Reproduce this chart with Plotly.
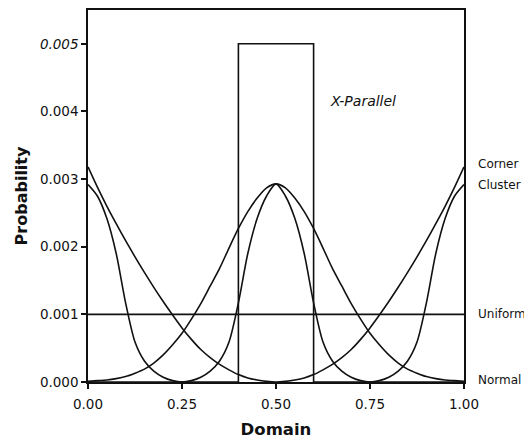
import plotly.graph_objects as go

# Domain grid (x)
domain = [0.000, 0.025, 0.050, 0.075, 0.100, 0.125, 0.150, 0.175, 0.200, 0.225,
          0.250, 0.275, 0.300, 0.325, 0.350, 0.375, 0.400, 0.425, 0.450, 0.475,
          0.500, 0.525, 0.550, 0.575, 0.600, 0.625, 0.650, 0.675, 0.700, 0.725,
          0.750, 0.775, 0.800, 0.825, 0.850, 0.875, 0.900, 0.925, 0.950, 0.975, 1.000]

cluster = [0.00292, 0.00275, 0.00242, 0.00190, 0.00117, 0.00059, 0.00031, 0.00016, 0.00007, 0.00002,
           0.00000, 0.00002, 0.00007, 0.00016, 0.00031, 0.00059, 0.00117, 0.00190, 0.00242, 0.00275,
           0.00293, 0.00275, 0.00242, 0.00190, 0.00117, 0.00059, 0.00031, 0.00016, 0.00007, 0.00002,
           0.00000, 0.00002, 0.00007, 0.00016, 0.00031, 0.00059, 0.00117, 0.00190, 0.00242, 0.00275, 0.00292]

corner = [0.00318, 0.00288, 0.00260, 0.00234, 0.00209, 0.00185, 0.00162, 0.00140, 0.00119, 0.00099,
          0.00080, 0.00063, 0.00048, 0.00036, 0.00026, 0.00018, 0.00011, 0.00006, 0.00003, 0.00001,
          0.00000, 0.00001, 0.00003, 0.00006, 0.00011, 0.00018, 0.00026, 0.00036, 0.00048, 0.00063,
          0.00080, 0.00099, 0.00119, 0.00140, 0.00162, 0.00185, 0.00209, 0.00234, 0.00260, 0.00288, 0.00318]

normal = [0.00001, 0.00002, 0.00003, 0.00005, 0.00008, 0.00013, 0.00019, 0.00028, 0.00040, 0.00055,
          0.00072, 0.00093, 0.00116, 0.00142, 0.00168, 0.00198, 0.00227, 0.00252, 0.00272, 0.00287,
          0.00293, 0.00287, 0.00272, 0.00252, 0.00227, 0.00198, 0.00168, 0.00142, 0.00116, 0.00093,
          0.00072, 0.00055, 0.00040, 0.00028, 0.00019, 0.00013, 0.00008, 0.00005, 0.00003, 0.00002, 0.00001]

uniform_x = [0.0, 1.0]
uniform_y = [0.001, 0.001]

xparallel_x = [0.0, 0.4, 0.4, 0.6, 0.6, 1.0]
xparallel_y = [0.0, 0.0, 0.005, 0.005, 0.0, 0.0]

x_ticks = [0.0, 0.25, 0.5, 0.75, 1.0]
x_ticklabels = ["0.00", "0.25", "0.50", "0.75", "1.00"]
y_ticks = [0.0, 0.001, 0.002, 0.003, 0.004, 0.005]
y_ticklabels = ["0.000", "0.001", "0.002", "0.003", "0.004", "<i>0.005</i>"]

labels = ["Corner", "Cluster", "Uniform", "Normal"]
label_y = [0.00323, 0.00291, 0.00100, 0.00003]

LINE = dict(color="#111111", width=1.6)
FONT = "DejaVu Sans, Arial, sans-serif"

fig = go.Figure()
fig.add_trace(go.Scatter(x=uniform_x, y=uniform_y, mode="lines", line=LINE))
fig.add_trace(go.Scatter(x=xparallel_x, y=xparallel_y, mode="lines", line=LINE))
for series in (normal, corner, cluster):
    fig.add_trace(go.Scatter(x=domain, y=series, mode="lines",
                             line=dict(color="#111111", width=1.6, shape="spline", smoothing=0.8)))

for name, yv in zip(labels, label_y):
    fig.add_annotation(x=1.032, y=yv, xref="paper", yref="y", text=name, showarrow=False,
                       xanchor="left", yanchor="middle",
                       font=dict(family=FONT, size=12, color="#111111"))
fig.add_annotation(x=0.638, y=0.00416, xref="x", yref="y", text="<i>X-Parallel</i>",
                   showarrow=False, xanchor="left", yanchor="middle",
                   font=dict(family=FONT, size=14, color="#111111"))

fig.update_layout(
    width=532, height=444,
    margin=dict(l=80, r=76, t=2, b=70, autoexpand=False),
    paper_bgcolor="white", plot_bgcolor="white",
    showlegend=False,
    font=dict(family=FONT, size=12, color="#111111"),
)
fig.update_xaxes(range=[0, 1], tickvals=x_ticks, ticktext=x_ticklabels,
                 showline=True, linecolor="#111111", linewidth=1.5, mirror=True,
                 ticks="outside", ticklen=5, tickwidth=1.5, tickcolor="#111111",
                 showgrid=False, zeroline=False, automargin=False,
                 ticklabelstandoff=4,
                 tickfont=dict(family=FONT, size=13.5),
                 title=dict(text="<b>Domain</b>", font=dict(family=FONT, size=16.5), standoff=12))
fig.update_yaxes(range=[0, 0.0055], tickvals=y_ticks, ticktext=y_ticklabels,
                 showline=True, linecolor="#111111", linewidth=1.5, mirror=True,
                 ticks="outside", ticklen=5, tickwidth=1.5, tickcolor="#111111",
                 showgrid=False, zeroline=False, automargin=False,
                 tickfont=dict(family=FONT, size=13.5),
                 title=dict(text="<b>Probability</b>", font=dict(family=FONT, size=16), standoff=8))

fig.write_html("out.html")
